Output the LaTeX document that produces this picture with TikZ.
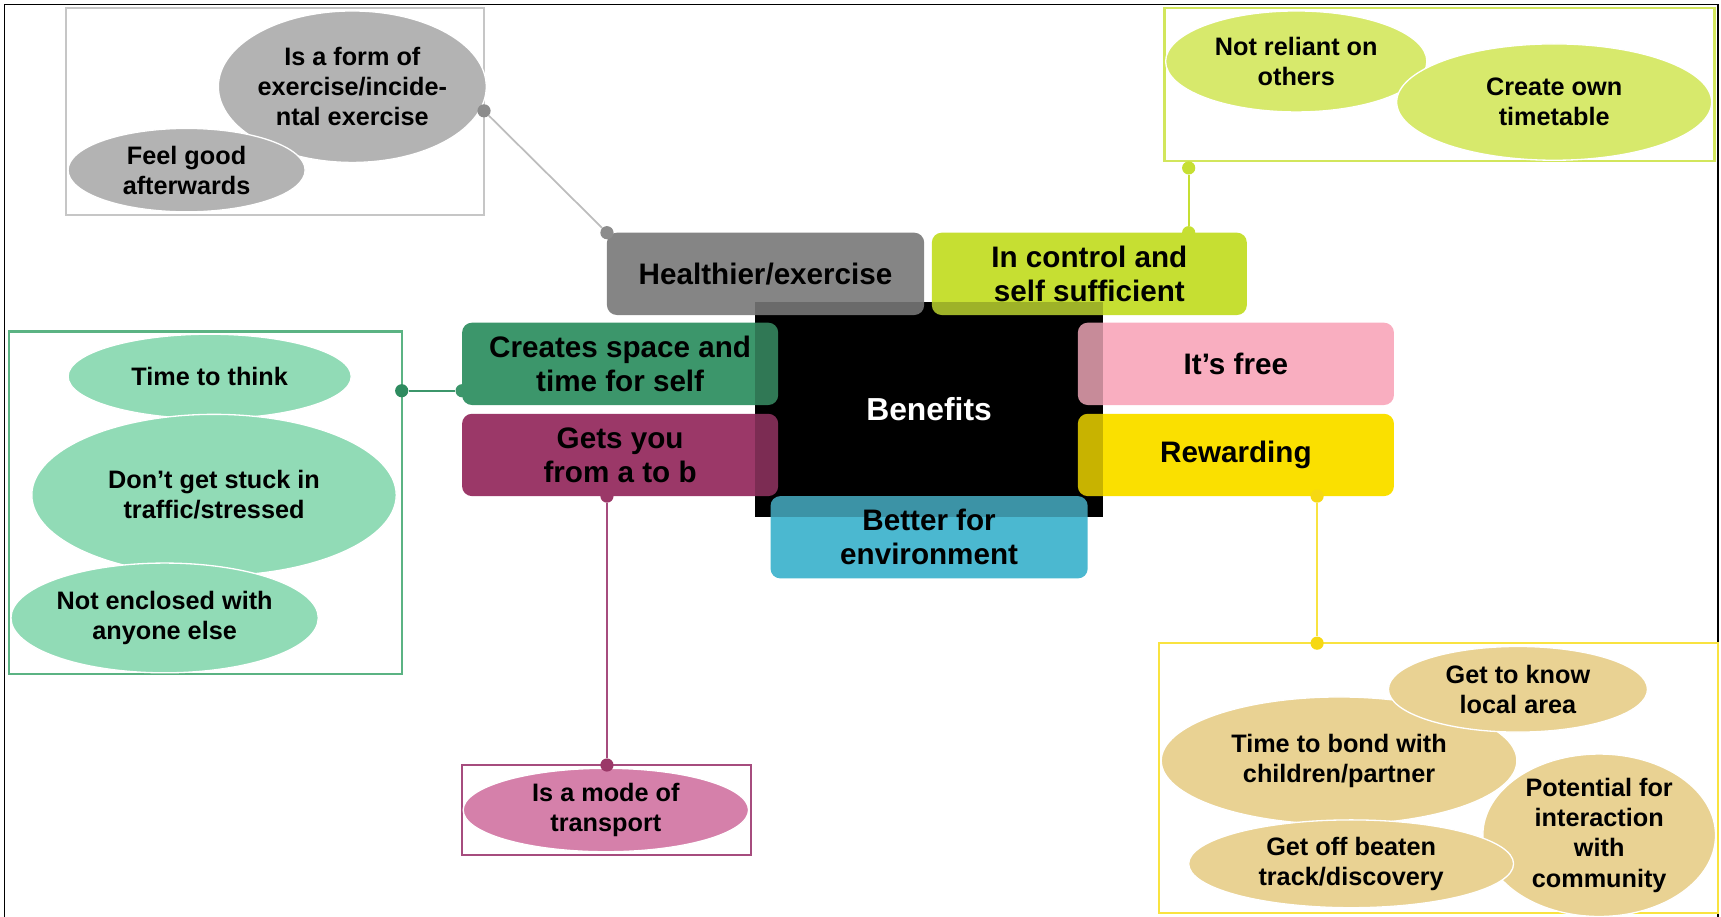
\documentclass[tikz,border=0pt]{standalone}
\usepackage{fontspec}
\setmainfont{Liberation Sans}
\usetikzlibrary{shapes.geometric}
\definecolor{tgray}{HTML}{858585}
\definecolor{egray}{HTML}{B3B3B3}
\definecolor{fgray}{HTML}{C6C6C6}
\definecolor{lgray}{HTML}{BDBDBD}
\definecolor{dgray}{HTML}{8C8C8C}
\definecolor{tlime}{HTML}{C6DF32}
\definecolor{elime}{HTML}{D7E96C}
\definecolor{flime}{HTML}{D2E65C}
\definecolor{tgreen}{HTML}{3C966B}
\definecolor{egreen}{HTML}{91DBB6}
\definecolor{fgreen}{HTML}{5BB383}
\definecolor{dgreen}{HTML}{2E8B5F}
\definecolor{tmag}{HTML}{9B3868}
\definecolor{emag}{HTML}{D580AA}
\definecolor{fmag}{HTML}{A64C7E}
\definecolor{tpink}{HTML}{F9AEC0}
\definecolor{tyel}{HTML}{FAE000}
\definecolor{fyel}{HTML}{F9E340}
\definecolor{dyel}{HTML}{F6D813}
\definecolor{etan}{HTML}{E9D293}
\definecolor{tcyan}{HTML}{4BB8D0}
\begin{document}
\begin{tikzpicture}[x=1pt,y=-1pt,
  bubble/.style={ellipse, draw=white, line width=1.2pt, inner sep=0pt, align=center,
    font=\fontsize{23}{27.5}\selectfont\bfseries, text=black},
  tile/.style={rectangle, rounded corners=9pt, minimum width=288pt, minimum height=75pt,
    inner sep=0pt, align=center, font=\fontsize{27}{31}\selectfont\bfseries, text=black},
  grp/.style={rectangle, inner sep=0pt, line width=2pt},
  dotn/.style={circle, inner sep=0pt, minimum size=12pt},
  link/.style={line width=1.6pt}]
\useasboundingbox (0,0) rectangle (1568,835);
% outer frame
\draw[line width=1.6pt] (4,4) rectangle (1565,850);

% ---- gray group
\node[grp, draw=fgray, minimum width=381pt, minimum height=189pt] (G1) at (250.5,101.5) {};
\node[bubble, fill=egray, minimum width=238pt, minimum height=138pt] (E1) at (321,79) {Is a form of\\exercise/incide-\\ntal exercise};
\node[bubble, fill=egray, minimum width=216pt, minimum height=76pt] (E2) at (170,155) {Feel good\\afterwards};

% ---- lime group
\node[grp, draw=flime, minimum width=501pt, minimum height=140pt] (G2) at (1311.5,77) {};
\node[bubble, fill=elime, minimum width=238pt, minimum height=92pt] (L1) at (1181,56) {Not reliant on\\others};
\node[bubble, fill=elime, minimum width=287pt, minimum height=106pt] (L2) at (1416,93) {Create own\\timetable};

% ---- green group
\node[grp, draw=fgreen, minimum width=358pt, minimum height=312pt] (G3) at (187,458) {};
\node[bubble, fill=egreen, minimum width=258pt, minimum height=77pt] (N1) at (191,343) {Time to think};
\node[bubble, fill=egreen, minimum width=332pt, minimum height=147pt] (N2) at (195,451) {Don’t get stuck in\\traffic/stressed};
\node[bubble, fill=egreen, minimum width=280pt, minimum height=100pt] (N3) at (150,563) {Not enclosed with\\anyone else};

% ---- magenta group
\node[grp, draw=fmag, minimum width=263pt, minimum height=82pt] (G4) at (552.5,738) {};
\node[bubble, fill=emag, minimum width=260pt, minimum height=76pt] (M1) at (552,738) {Is a mode of\\transport};

% ---- yellow group
\node[grp, draw=fyel, minimum width=509pt, minimum height=246pt] (G5) at (1310.5,709) {};
\node[bubble, fill=etan, minimum width=212pt, minimum height=148pt] (Y4) at (1457,761) {Potential for\\interaction\\with\\community};
\node[bubble, fill=etan, minimum width=324pt, minimum height=116pt] (Y2) at (1220,693) {Time to bond with\\children/partner};
\node[bubble, fill=etan, minimum width=236pt, minimum height=78pt] (Y1) at (1383,628) {Get to know\\local area};
\node[bubble, fill=etan, minimum width=296pt, minimum height=80pt] (Y3) at (1231,787) {Get off beaten\\track/discovery};

% ---- centre
\node[rectangle, fill=black, minimum width=317pt, minimum height=196pt, inner sep=0pt] (B) at (846.5,373) {};
\node[tile, fill=tgray, minimum width=289pt] (T1) at (697.5,249.5) {Healthier/exercise};
\node[tile, fill=tlime, minimum width=287pt] (T2) at (992.5,249.5) {In control and\\self sufficient};
\node[tile, fill=tgreen] (T3) at (565,331.5) {Creates space and\\time for self};
\node[tile, fill=tmag] (T4) at (565,414.5) {Gets you\\from a to b};
\node[tile, fill=tpink] (T5) at (1126,331.5) {It’s free};
\node[tile, fill=tyel] (T6) at (1126,414.5) {Rewarding};
\node[tile, fill=tcyan, minimum width=289pt] (T7) at (846.5,489.5) {Better for\\environment};
% darkening where the tiles lie over the black square
\fill[black, fill opacity=0.2] (B.north west) rectangle (B.south east);
\node[text=white, font=\fontsize{29}{33}\selectfont\bfseries] (BL) at (B.center) {Benefits};

% ---- connectors
\node[dotn, fill=dgray] (d1a) at (441,101) {};
\node[dotn, fill=dgray] (d1b) at (553,212) {};
\draw[link, lgray] (d1a) -- (d1b);

\node[dotn, fill=tlime] (d2a) at (1083,153) {};
\node[dotn, fill=tlime] (d2b) at (1083,212) {};
\draw[link, tlime] (d2a) -- (d2b);

\node[dotn, fill=dgreen] (d3a) at (366,356) {};
\node[dotn, fill=tgreen] (d3b) at (421,356) {};
\draw[link, tgreen] (d3a) -- (d3b);

\node[dotn, fill=tmag] (d4a) at (553,452) {};
\node[dotn, fill=tmag] (d4b) at (553,697) {};
\draw[link, fmag] (d4a) -- (d4b);

\node[dotn, fill=dyel] (d5a) at (1200,452) {};
\node[dotn, fill=dyel] (d5b) at (1200,586) {};
\draw[link, fyel] (d5a) -- (d5b);
\end{tikzpicture}
\end{document}
